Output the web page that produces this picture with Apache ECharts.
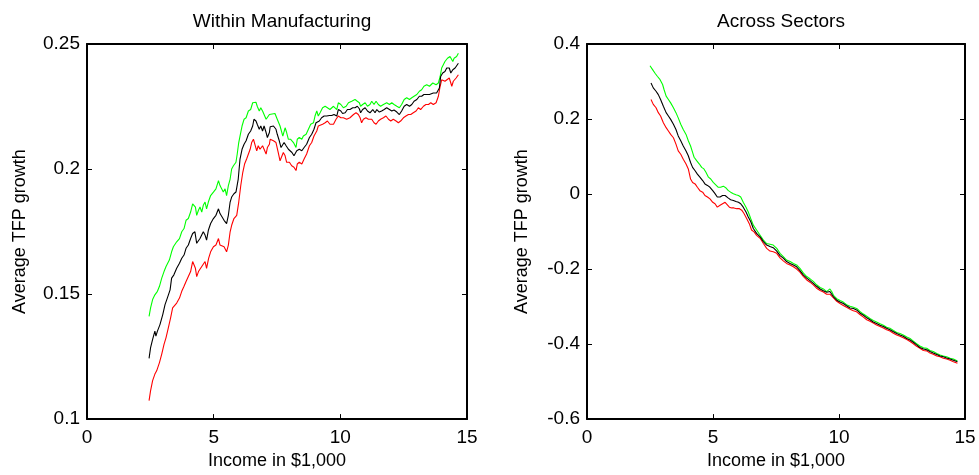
<!DOCTYPE html>
<html>
<head>
<meta charset="utf-8">
<script src="https://cdn.jsdelivr.net/npm/echarts@6/dist/echarts.min.js"></script>
<style>
  html, body { margin: 0; padding: 0; background: #fff; }
  #chart { width: 979px; height: 475px; }
</style>
</head>
<body>
<div id="chart"></div>
<script>
// panel titles and axis text
const titles = ['Within Manufacturing', 'Across Sectors']
const xName = 'Income in $1,000'
const yName = 'Average TFP growth'
const xTicks = [0, 5, 10, 15]
const mfgTicks = [0.1, 0.15, 0.2, 0.25]
const secTicks = [-0.6, -0.4, -0.2, 0, 0.2, 0.4]

// Within Manufacturing: [income, avg TFP growth]
const mfgGreen = [
  [2.45,0.1411],[2.51,0.1445],[2.59,0.1478],[2.68,0.1497],[2.72,0.1491],[2.78,0.1511],[2.86,0.1531],[2.95,0.1564],
  [3.04,0.1590],[3.12,0.1610],[3.17,0.1603],[3.25,0.1636],[3.34,0.1669],[3.41,0.1689],[3.47,0.1683],[3.54,0.1709],
  [3.65,0.1722],[3.74,0.1749],[3.83,0.1762],[3.91,0.1795],[4.00,0.1802],[4.09,0.1828],[4.17,0.1861],[4.22,0.1868],
  [4.28,0.1848],[4.33,0.1815],[4.40,0.1835],[4.46,0.1848],[4.53,0.1828],[4.59,0.1855],[4.66,0.1868],[4.72,0.1841],
  [4.79,0.1868],[4.88,0.1894],[4.99,0.1908],[5.09,0.1921],[5.19,0.1954],[5.25,0.1934],[5.32,0.1927],[5.38,0.1908],
  [5.45,0.1921],[5.51,0.1894],[5.58,0.1934],[5.65,0.1960],[5.71,0.2000],[5.78,0.2013],[5.88,0.2027],[5.93,0.2060],
  [5.99,0.2106],[6.04,0.2132],[6.12,0.2172],[6.20,0.2199],[6.28,0.2205],[6.37,0.2232],[6.46,0.2238],[6.54,0.2265],
  [6.61,0.2271],[6.67,0.2267],[6.72,0.2251],[6.80,0.2232],[6.86,0.2245],[6.93,0.2232],[6.99,0.2238],[7.07,0.2199],
  [7.12,0.2205],[7.20,0.2218],[7.23,0.2225],[7.42,0.2222],[7.51,0.2199],[7.62,0.2172],[7.73,0.2132],[7.78,0.2126],
  [7.82,0.2165],[7.88,0.2146],[7.95,0.2119],[8.04,0.2119],[8.15,0.2106],[8.25,0.2086],[8.30,0.2119],[8.38,0.2126],
  [8.48,0.2119],[8.54,0.2132],[8.65,0.2139],[8.74,0.2159],[8.83,0.2179],[8.94,0.2185],[9.00,0.2212],[9.07,0.2232],
  [9.13,0.2212],[9.20,0.2225],[9.30,0.2245],[9.40,0.2251],[9.49,0.2245],[9.59,0.2238],[9.73,0.2251],[9.86,0.2238],
  [9.92,0.2265],[10.02,0.2258],[10.12,0.2245],[10.23,0.2251],[10.32,0.2265],[10.45,0.2271],[10.58,0.2278],[10.67,0.2271],
  [10.75,0.2265],[10.80,0.2251],[10.88,0.2258],[10.98,0.2265],[11.07,0.2251],[11.17,0.2258],[11.24,0.2271],[11.33,0.2258],
  [11.41,0.2271],[11.50,0.2258],[11.59,0.2251],[11.70,0.2258],[11.83,0.2265],[11.94,0.2258],[12.03,0.2265],[12.12,0.2258],
  [12.23,0.2251],[12.33,0.2245],[12.42,0.2258],[12.52,0.2278],[12.62,0.2285],[12.73,0.2278],[12.82,0.2285],[12.91,0.2291],
  [13.02,0.2298],[13.12,0.2311],[13.21,0.2317],[13.30,0.2331],[13.41,0.2337],[13.52,0.2331],[13.65,0.2344],[13.78,0.2337],
  [13.87,0.2344],[13.94,0.2370],[14.00,0.2404],[14.07,0.2410],[14.13,0.2430],[14.23,0.2443],[14.33,0.2450],[14.44,0.2430],
  [14.49,0.2443],[14.59,0.2450],[14.66,0.2463]
]
const mfgBlack = [
  [2.45,0.1243],[2.51,0.1286],[2.59,0.1319],[2.68,0.1352],[2.72,0.1332],[2.78,0.1352],[2.88,0.1378],[2.99,0.1418],
  [3.08,0.1458],[3.17,0.1484],[3.28,0.1517],[3.34,0.1564],[3.43,0.1577],[3.54,0.1603],[3.65,0.1623],[3.74,0.1643],
  [3.83,0.1656],[3.91,0.1683],[4.00,0.1696],[4.09,0.1722],[4.17,0.1742],[4.26,0.1749],[4.33,0.1703],[4.40,0.1709],
  [4.46,0.1722],[4.53,0.1729],[4.59,0.1749],[4.66,0.1736],[4.72,0.1716],[4.79,0.1755],[4.88,0.1782],[4.99,0.1802],
  [5.09,0.1815],[5.19,0.1841],[5.25,0.1822],[5.32,0.1815],[5.41,0.1795],[5.51,0.1782],[5.58,0.1815],[5.65,0.1868],
  [5.71,0.1888],[5.80,0.1901],[5.88,0.1908],[5.97,0.1960],[6.04,0.2040],[6.12,0.2079],[6.20,0.2099],[6.28,0.2113],
  [6.37,0.2139],[6.46,0.2152],[6.54,0.2172],[6.59,0.2199],[6.67,0.2192],[6.72,0.2179],[6.80,0.2159],[6.86,0.2172],
  [6.93,0.2152],[6.99,0.2172],[7.07,0.2146],[7.12,0.2126],[7.20,0.2146],[7.23,0.2169],[7.36,0.2172],[7.46,0.2159],
  [7.51,0.2139],[7.59,0.2113],[7.66,0.2086],[7.73,0.2093],[7.78,0.2106],[7.86,0.2093],[7.95,0.2079],[8.01,0.2086],
  [8.09,0.2066],[8.17,0.2053],[8.23,0.2046],[8.28,0.2073],[8.38,0.2079],[8.48,0.2073],[8.57,0.2086],[8.67,0.2099],
  [8.78,0.2126],[8.87,0.2139],[8.96,0.2159],[9.04,0.2185],[9.09,0.2192],[9.17,0.2192],[9.26,0.2205],[9.36,0.2212],
  [9.46,0.2212],[9.57,0.2214],[9.66,0.2214],[9.75,0.2218],[9.86,0.2212],[9.92,0.2238],[10.02,0.2232],[10.09,0.2222],
  [10.19,0.2225],[10.28,0.2238],[10.38,0.2238],[10.49,0.2245],[10.58,0.2245],[10.67,0.2251],[10.75,0.2241],[10.80,0.2225],
  [10.88,0.2238],[10.98,0.2245],[11.07,0.2232],[11.17,0.2225],[11.28,0.2238],[11.37,0.2225],[11.44,0.2238],[11.54,0.2228],
  [11.63,0.2232],[11.73,0.2238],[11.83,0.2245],[11.94,0.2238],[12.03,0.2232],[12.12,0.2236],[12.23,0.2228],[12.33,0.2218],
  [12.42,0.2232],[12.52,0.2251],[12.62,0.2258],[12.73,0.2251],[12.82,0.2258],[12.91,0.2271],[13.02,0.2278],[13.12,0.2291],
  [13.21,0.2291],[13.30,0.2298],[13.41,0.2298],[13.52,0.2298],[13.67,0.2304],[13.80,0.2304],[13.91,0.2324],[13.96,0.2370],
  [14.04,0.2384],[14.13,0.2390],[14.20,0.2404],[14.30,0.2404],[14.36,0.2384],[14.44,0.2397],[14.53,0.2404],[14.59,0.2410],
  [14.66,0.2423]
]
const mfgRed = [
  [2.45,0.1074],[2.51,0.1114],[2.59,0.1154],[2.68,0.1180],[2.75,0.1193],[2.86,0.1226],[2.95,0.1260],[3.04,0.1299],
  [3.12,0.1326],[3.21,0.1365],[3.30,0.1405],[3.38,0.1445],[3.45,0.1438],[3.54,0.1464],[3.65,0.1484],[3.74,0.1511],
  [3.83,0.1531],[3.91,0.1550],[4.00,0.1570],[4.09,0.1590],[4.17,0.1630],[4.22,0.1636],[4.28,0.1603],[4.33,0.1570],
  [4.40,0.1590],[4.46,0.1597],[4.53,0.1610],[4.59,0.1603],[4.66,0.1630],[4.72,0.1603],[4.80,0.1643],[4.88,0.1669],
  [4.99,0.1689],[5.09,0.1696],[5.19,0.1722],[5.25,0.1696],[5.32,0.1689],[5.41,0.1689],[5.51,0.1669],[5.58,0.1696],
  [5.65,0.1749],[5.71,0.1775],[5.80,0.1802],[5.91,0.1815],[5.99,0.1868],[6.07,0.1934],[6.15,0.1987],[6.22,0.2020],
  [6.30,0.2040],[6.37,0.2046],[6.44,0.2079],[6.50,0.2106],[6.57,0.2119],[6.63,0.2113],[6.70,0.2073],[6.76,0.2093],
  [6.83,0.2079],[6.93,0.2093],[6.99,0.2079],[7.07,0.2060],[7.12,0.2086],[7.20,0.2099],[7.23,0.2119],[7.36,0.2113],
  [7.46,0.2106],[7.55,0.2066],[7.62,0.2033],[7.69,0.2033],[7.75,0.2066],[7.82,0.2053],[7.88,0.2027],[7.99,0.2027],
  [8.08,0.2013],[8.17,0.2007],[8.25,0.1994],[8.30,0.2020],[8.38,0.2027],[8.48,0.2020],[8.57,0.2040],[8.67,0.2060],
  [8.78,0.2093],[8.87,0.2106],[8.96,0.2132],[9.07,0.2152],[9.13,0.2172],[9.20,0.2165],[9.30,0.2179],[9.40,0.2185],
  [9.49,0.2192],[9.59,0.2179],[9.73,0.2179],[9.83,0.2199],[9.92,0.2212],[10.02,0.2205],[10.12,0.2205],[10.25,0.2199],
  [10.38,0.2205],[10.52,0.2218],[10.62,0.2225],[10.71,0.2218],[10.78,0.2205],[10.84,0.2185],[10.91,0.2199],[11.01,0.2205],
  [11.11,0.2199],[11.17,0.2192],[11.24,0.2199],[11.33,0.2185],[11.41,0.2179],[11.50,0.2192],[11.59,0.2199],[11.70,0.2205],
  [11.80,0.2212],[11.90,0.2199],[11.99,0.2192],[12.09,0.2199],[12.20,0.2192],[12.29,0.2185],[12.38,0.2192],[12.49,0.2205],
  [12.59,0.2212],[12.69,0.2218],[12.78,0.2218],[12.88,0.2225],[12.99,0.2232],[13.08,0.2245],[13.17,0.2238],[13.28,0.2251],
  [13.38,0.2258],[13.48,0.2258],[13.57,0.2265],[13.67,0.2258],[13.78,0.2265],[13.87,0.2291],[13.94,0.2331],[14.00,0.2357],
  [14.07,0.2364],[14.13,0.2351],[14.20,0.2357],[14.30,0.2364],[14.40,0.2331],[14.46,0.2351],[14.57,0.2364],[14.66,0.2377]
]

// Across Sectors: [income, avg TFP growth]
const secGreen = [
  [2.50,0.342],[2.61,0.331],[2.70,0.322],[2.79,0.314],[2.90,0.305],[3.00,0.292],[3.06,0.278],[3.14,0.261],
  [3.23,0.252],[3.32,0.243],[3.43,0.230],[3.53,0.217],[3.62,0.203],[3.72,0.186],[3.82,0.172],[3.93,0.159],
  [4.02,0.142],[4.11,0.128],[4.19,0.111],[4.25,0.098],[4.35,0.089],[4.46,0.080],[4.55,0.071],[4.64,0.067],
  [4.72,0.058],[4.82,0.045],[4.91,0.040],[5.01,0.031],[5.12,0.024],[5.21,0.018],[5.30,0.018],[5.41,0.021],
  [5.52,0.016],[5.61,0.009],[5.70,0.005],[5.81,0.001],[5.91,-0.002],[6.01,-0.004],[6.10,-0.008],[6.20,-0.022],
  [6.31,-0.035],[6.40,-0.048],[6.50,-0.066],[6.60,-0.083],[6.73,-0.096],[6.87,-0.110],[7.00,-0.123],[7.13,-0.132],
  [7.26,-0.134],[7.39,-0.136],[7.53,-0.145],[7.66,-0.158],[7.79,-0.167],[7.92,-0.176],[8.06,-0.180],[8.19,-0.185],
  [8.32,-0.189],[8.45,-0.198],[8.59,-0.211],[8.72,-0.220],[8.85,-0.226],[8.98,-0.233],[9.11,-0.242],[9.25,-0.249],
  [9.38,-0.253],[9.51,-0.260],[9.64,-0.253],[9.71,-0.260],[9.78,-0.270],[9.91,-0.279],[10.04,-0.284],[10.17,-0.288],
  [10.30,-0.295],[10.44,-0.299],[10.57,-0.302],[10.70,-0.305],[10.83,-0.313],[10.97,-0.320],[11.10,-0.326],[11.23,-0.332],
  [11.36,-0.337],[11.49,-0.341],[11.63,-0.346],[11.76,-0.350],[11.89,-0.355],[12.02,-0.358],[12.16,-0.364],[12.29,-0.369],
  [12.42,-0.372],[12.55,-0.376],[12.69,-0.381],[12.82,-0.385],[12.95,-0.392],[13.08,-0.399],[13.21,-0.405],[13.35,-0.410],
  [13.48,-0.411],[13.61,-0.417],[13.74,-0.420],[13.88,-0.425],[14.01,-0.429],[14.14,-0.432],[14.27,-0.434],[14.41,-0.438],
  [14.54,-0.440],[14.70,-0.445]
]
const secBlack = [
  [2.54,0.296],[2.63,0.283],[2.74,0.274],[2.83,0.265],[2.92,0.252],[3.03,0.234],[3.14,0.217],[3.23,0.208],
  [3.32,0.199],[3.43,0.186],[3.53,0.172],[3.62,0.155],[3.72,0.142],[3.82,0.128],[3.93,0.115],[4.02,0.102],
  [4.11,0.084],[4.19,0.071],[4.29,0.062],[4.38,0.053],[4.48,0.045],[4.59,0.036],[4.68,0.027],[4.78,0.023],
  [4.88,0.018],[4.99,0.009],[5.08,0.001],[5.17,-0.008],[5.28,-0.008],[5.38,-0.004],[5.48,-0.004],[5.54,-0.002],
  [5.61,-0.011],[5.70,-0.015],[5.81,-0.017],[5.91,-0.020],[6.01,-0.022],[6.10,-0.026],[6.20,-0.035],[6.31,-0.048],
  [6.40,-0.061],[6.50,-0.074],[6.60,-0.092],[6.73,-0.105],[6.87,-0.114],[7.00,-0.127],[7.13,-0.136],[7.26,-0.140],
  [7.39,-0.143],[7.53,-0.152],[7.66,-0.164],[7.79,-0.171],[7.92,-0.180],[8.06,-0.185],[8.19,-0.189],[8.32,-0.194],
  [8.45,-0.204],[8.59,-0.216],[8.72,-0.224],[8.85,-0.231],[8.98,-0.238],[9.11,-0.246],[9.25,-0.253],[9.38,-0.258],
  [9.51,-0.262],[9.64,-0.260],[9.71,-0.264],[9.78,-0.274],[9.91,-0.283],[10.04,-0.288],[10.17,-0.292],[10.30,-0.298],
  [10.44,-0.304],[10.57,-0.305],[10.70,-0.309],[10.83,-0.317],[10.97,-0.323],[11.10,-0.330],[11.23,-0.335],[11.36,-0.341],
  [11.49,-0.345],[11.63,-0.350],[11.76,-0.353],[11.89,-0.358],[12.02,-0.362],[12.16,-0.367],[12.29,-0.372],[12.42,-0.376],
  [12.55,-0.379],[12.69,-0.385],[12.82,-0.389],[12.95,-0.395],[13.08,-0.402],[13.21,-0.409],[13.35,-0.413],[13.48,-0.415],
  [13.61,-0.420],[13.74,-0.424],[13.88,-0.428],[14.01,-0.432],[14.14,-0.434],[14.27,-0.437],[14.41,-0.440],[14.54,-0.443],
  [14.70,-0.447]
]
const secRed = [
  [2.54,0.252],[2.63,0.239],[2.74,0.230],[2.83,0.217],[2.92,0.208],[3.03,0.190],[3.14,0.177],[3.23,0.168],
  [3.32,0.159],[3.43,0.150],[3.53,0.133],[3.62,0.115],[3.72,0.106],[3.82,0.093],[3.93,0.080],[4.02,0.067],
  [4.11,0.040],[4.19,0.031],[4.29,0.027],[4.38,0.018],[4.48,0.009],[4.59,0.005],[4.68,-0.004],[4.78,-0.008],
  [4.88,-0.013],[4.99,-0.022],[5.08,-0.026],[5.17,-0.035],[5.28,-0.030],[5.38,-0.026],[5.48,-0.022],[5.54,-0.026],
  [5.65,-0.035],[5.74,-0.037],[5.83,-0.037],[5.94,-0.039],[6.05,-0.039],[6.14,-0.043],[6.23,-0.052],[6.34,-0.066],
  [6.44,-0.079],[6.53,-0.096],[6.63,-0.101],[6.73,-0.110],[6.87,-0.118],[7.00,-0.132],[7.13,-0.145],[7.26,-0.152],
  [7.39,-0.154],[7.53,-0.158],[7.66,-0.170],[7.79,-0.178],[7.92,-0.185],[8.06,-0.189],[8.19,-0.194],[8.32,-0.200],
  [8.45,-0.208],[8.59,-0.220],[8.72,-0.229],[8.85,-0.235],[8.98,-0.242],[9.11,-0.251],[9.25,-0.257],[9.38,-0.261],
  [9.51,-0.267],[9.64,-0.267],[9.71,-0.270],[9.78,-0.277],[9.91,-0.286],[10.04,-0.292],[10.17,-0.297],[10.30,-0.302],
  [10.44,-0.307],[10.57,-0.311],[10.70,-0.314],[10.83,-0.321],[10.97,-0.328],[11.10,-0.335],[11.23,-0.339],[11.36,-0.344],
  [11.49,-0.349],[11.63,-0.353],[11.76,-0.357],[11.89,-0.362],[12.02,-0.365],[12.16,-0.371],[12.29,-0.376],[12.42,-0.379],
  [12.55,-0.383],[12.69,-0.388],[12.82,-0.393],[12.95,-0.399],[13.08,-0.406],[13.21,-0.411],[13.35,-0.417],[13.48,-0.418],
  [13.61,-0.424],[13.74,-0.427],[13.88,-0.432],[14.01,-0.434],[14.14,-0.438],[14.27,-0.440],[14.41,-0.443],[14.54,-0.447],
  [14.70,-0.451]
]

const FONT = 'Liberation Sans'
const myChart = echarts.init(document.getElementById('chart'), null, { renderer: 'canvas' })

const frameLine = { show: true, onZero: false, lineStyle: { color: '#000', width: 2 } }
const tick = { show: true, inside: true, length: 5, lineStyle: { color: '#000', width: 1 } }
const tickLabel = { color: '#000', fontFamily: FONT, fontSize: 19 }

const xAxisPair = (grid) => [
  {
    gridIndex: grid, type: 'value', position: 'bottom', min: xTicks[0], max: xTicks[xTicks.length - 1], interval: 5,
    name: xName, nameLocation: 'middle', nameGap: 29,
    nameTextStyle: { color: '#000', fontFamily: FONT, fontSize: 18 },
    axisLine: frameLine, axisTick: tick, splitLine: { show: false },
    axisLabel: { ...tickLabel, margin: 9 }
  },
  {
    gridIndex: grid, type: 'value', position: 'top', min: xTicks[0], max: xTicks[xTicks.length - 1], interval: 5,
    axisLine: frameLine, axisTick: tick, splitLine: { show: false }, axisLabel: { show: false }
  }
]

const yAxisPair = (grid, ticks, step, gap) => [
  {
    gridIndex: grid, type: 'value', position: 'left', min: ticks[0], max: ticks[ticks.length - 1], interval: step,
    name: yName, nameLocation: 'middle', nameGap: gap,
    nameTextStyle: { color: '#000', fontFamily: FONT, fontSize: 18 },
    axisLine: frameLine, axisTick: tick, splitLine: { show: false },
    axisLabel: { ...tickLabel, margin: 7, formatter: v => String(+v.toFixed(2)) }
  },
  {
    gridIndex: grid, type: 'value', position: 'right', min: ticks[0], max: ticks[ticks.length - 1], interval: step,
    axisLine: frameLine, axisTick: tick, splitLine: { show: false }, axisLabel: { show: false }
  }
]

const line = (name, data, color, xi, yi) => ({
  name, type: 'line', data, xAxisIndex: xi, yAxisIndex: yi,
  showSymbol: false, symbol: 'none', smooth: false,
  lineStyle: { color, width: 1.1 }, emphasis: { disabled: true }
})

const option = {
  animation: false,
  backgroundColor: '#fff',
  title: [
    { text: titles[0], left: 277, top: 7, textAlign: 'center',
      textStyle: { color: '#000', fontFamily: FONT, fontSize: 19, fontWeight: 'normal' } },
    { text: titles[1], left: 776, top: 7, textAlign: 'center',
      textStyle: { color: '#000', fontFamily: FONT, fontSize: 19, fontWeight: 'normal' } }
  ],
  grid: [
    { left: 87, top: 44, width: 380, height: 378 },
    { left: 587, top: 44, width: 378, height: 378 }
  ],
  xAxis: [...xAxisPair(0), ...xAxisPair(1)],
  yAxis: [...yAxisPair(0, mfgTicks, 0.05, 58), ...yAxisPair(1, secTicks, 0.2, 56)],
  series: [
    line('mfg upper', mfgGreen, '#00ff00', 0, 0),
    line('mfg lower', mfgRed, '#ff0000', 0, 0),
    line('mfg mean', mfgBlack, '#000000', 0, 0),
    line('sec upper', secGreen, '#00ff00', 2, 2),
    line('sec lower', secRed, '#ff0000', 2, 2),
    line('sec mean', secBlack, '#000000', 2, 2)
  ]
}

myChart.setOption(option)
</script>
</body>
</html>
